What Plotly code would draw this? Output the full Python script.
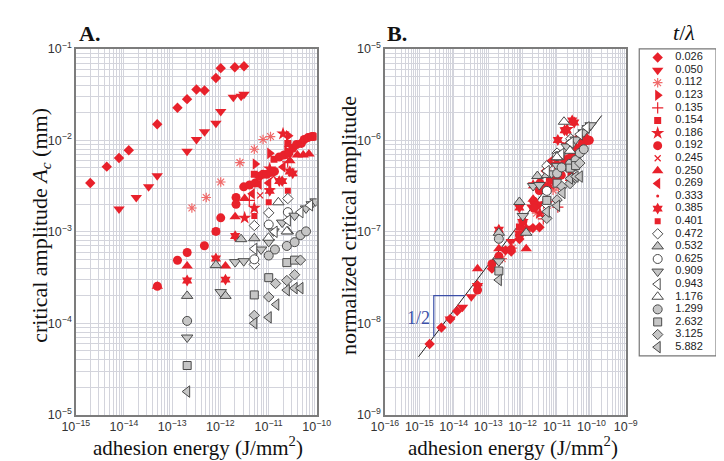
import plotly.graph_objects as go

W, H = 724, 461

# ---------------- data (panel A: adhesion energy [J/mm^2] vs critical amplitude [mm]) ----------------
t_labels = ["0.026", "0.050", "0.112", "0.123", "0.135", "0.154", "0.186", "0.192",
            "0.245", "0.250", "0.269", "0.333", "0.385", "0.401", "0.472", "0.532",
            "0.625", "0.909", "0.943", "1.176", "1.299", "2.632", "3.125", "5.882"]

E_0026 = [2.0e-15, 4.4e-15, 7.9e-15, 1.26e-14, 4.9e-14, 1.29e-13, 2.04e-13, 3.2e-13, 4.7e-13, 8.1e-13, 1.02e-12, 2.0e-12, 3.1e-12]
A_0026 = [3.41e-3, 5.15e-3, 6.4e-3, 7.8e-3, 1.5e-2, 2.27e-2, 2.82e-2, 3.6e-2, 3.5e-2, 4.8e-2, 6.15e-2, 6.3e-2, 6.45e-2]
E_0050 = [7.9e-15, 1.8e-14, 3.25e-14, 4.9e-14, 2.04e-13, 3.2e-13, 4.7e-13, 8.1e-13, 1.02e-12, 1.86e-12, 2.7e-12, 3.1e-12]
A_0050 = [1.77e-3, 2.37e-3, 3.1e-3, 4.1e-3, 7.6e-3, 1.02e-2, 1.24e-2, 1.54e-2, 2.06e-2, 2.96e-2, 3.04e-2, 3.19e-2]
E_0112 = [2.57e-13, 5.1e-13, 1.02e-12, 2.55e-12, 5.07e-12, 7.7e-12, 1.1e-11]
A_0112 = [1.82e-3, 2.37e-3, 3.5e-3, 5.7e-3, 7.98e-3, 1.02e-2, 1.1e-2]
E_0123 = [5.3e-12, 1.06e-11, 2.4e-11, 2.6e-11]
A_0123 = [5.5e-3, 7.2e-3, 7.6e-3, 1.12e-2]
E_0135 = [1.06e-11, 2.5e-11, 4.0e-12]
A_0135 = [2.95e-3, 5.8e-3, 2.2e-3]
E_0154 = [2.52e-11, 5.07e-12, 8.1e-13, 1.3e-11]
A_0154 = [9.25e-3, 4.25e-3, 1.01e-3, 6.2e-3]
E_0186 = [2.0e-11, 1.06e-11, 5.07e-12, 3.2e-12]
A_0186 = [1.18e-2, 4.9e-3, 1.82e-3, 1.42e-3]
E_0192 = [4.93e-14, 1.29e-13, 2.05e-13, 4.67e-13, 8.1e-13, 1.02e-12, 2.12e-12, 2.12e-12, 3.06e-12, 4.04e-12,
          5.3e-12, 6.4e-12, 7.66e-12, 9.2e-12, 1.1e-11, 1.33e-11, 1.67e-11, 2.1e-11, 2.64e-11, 3.18e-11,
          3.82e-11, 4.8e-11, 5.5e-11, 6.6e-11, 7.9e-11, 8.7e-11]
A_0192 = [2.54e-4, 4.89e-4, 5.93e-4, 7.03e-4, 1.01e-3, 1.42e-3, 2.37e-3, 2.0e-3, 3.1e-3, 3.25e-3,
          3.41e-3, 4.05e-3, 4.25e-3, 4.25e-3, 4.46e-3, 4.57e-3, 6.58e-3, 6.9e-3, 7.24e-3, 8.2e-3,
          9.0e-3, 9.25e-3, 1.02e-2, 1.07e-2, 1.1e-2, 1.1e-2]
E_0245 = [1.27e-11, 6.7e-12]
A_0245 = [4.05e-3, 2.5e-3]
E_0250 = [4.93e-14, 2.05e-13, 1.28e-12, 2.03e-12, 3.2e-12, 2.77e-11, 3.98e-11, 5.26e-11, 6.9e-11]
A_0250 = [2.54e-4, 4.22e-4, 4.22e-4, 1.46e-3, 2.31e-3, 5.97e-3, 6.9e-3, 6.9e-3, 7.08e-3]
E_0269 = [4.6e-12, 6.4e-12, 1.01e-11, 2.0e-11]
A_0269 = [2.6e-3, 3.3e-3, 3.41e-3, 5.1e-3]
E_0333 = [1.5e-11, 3.0e-11]
A_0333 = [3.7e-3, 6.0e-3]
E_0385 = [2.77e-11, 3.18e-11, 1.67e-11, 1.92e-11, 2.05e-13, 8.1e-13, 1.28e-12, 2.03e-12, 1.06e-11]
A_0385 = [4.57e-3, 4.35e-3, 3.58e-3, 3.58e-3, 2.93e-4, 5.1e-4, 3.0e-4, 8.97e-4, 2.8e-3]
E_0401 = [1.01e-11, 2.52e-11, 5.07e-12]
A_0401 = [2.1e-3, 2.81e-3, 1.49e-3]
E_0472 = [5.07e-12, 1.01e-11, 2.52e-11, 5.07e-12]
A_0472 = [1.17e-3, 1.61e-3, 2.31e-3, 4.4e-4]
E_0532 = [2.05e-13, 8.1e-13, 1.28e-12, 2.7e-12, 5.07e-12, 2.52e-11]
A_0532 = [1.99e-4, 4.32e-4, 1.99e-4, 8.3e-4, 8.5e-4, 1.01e-3]
E_0625 = [1.01e-11, 2.52e-11, 5.07e-12]
A_0625 = [1.2e-3, 1.64e-3, 5.0e-4]
E_0909 = [2.05e-13, 1.02e-12, 2.03e-12, 3.06e-12, 7.0e-12, 1.01e-11, 1.27e-11, 1.92e-11, 3.48e-11, 6.0e-11, 7.9e-11, 9.5e-11]
A_0909 = [6.98e-5, 2.19e-4, 4.66e-4, 4.77e-4, 6.4e-4, 7.74e-4, 1.01e-3, 1.26e-3, 1.5e-3, 1.8e-3, 2.0e-3, 2.15e-3]
E_0943 = [5.07e-12, 1.34e-11, 2.52e-11, 4.6e-11, 7.3e-11]
A_0943 = [6.5e-4, 1.0e-3, 1.33e-3, 1.64e-3, 1.95e-3]
E_1176 = [1.6e-11, 2.4e-11, 1.0e-11]
A_1176 = [2.1e-3, 1.01e-3, 8.6e-4]
E_1299 = [2.05e-13, 1.01e-11, 1.36e-11, 2.4e-11, 3.48e-11, 4.6e-11, 6.0e-11]
A_1299 = [1.06e-4, 5.5e-4, 6.4e-4, 7.0e-4, 7.7e-4, 9.2e-4, 1.01e-3]
E_2632 = [2.05e-13, 5.07e-12, 1.01e-11, 2.4e-11, 3.48e-11]
A_2632 = [3.45e-5, 2.04e-4, 3.15e-4, 4.6e-4, 4.9e-4]
E_3125 = [5.07e-12, 1.01e-11, 1.4e-11, 2.4e-11, 3.48e-11, 4.6e-11]
A_3125 = [1.22e-4, 1.94e-4, 2.72e-4, 2.93e-4, 3.39e-4, 4.9e-4]
E_5882 = [2.05e-13, 5.07e-12, 1.01e-11, 1.45e-11, 2.4e-11, 3.48e-11, 4.6e-11]
A_5882 = [1.79e-5, 1.0e-4, 1.16e-4, 1.6e-4, 2.3e-4, 2.42e-4, 2.42e-4]

# normalisation factor per series (panel B = A * factor)
norm_factor = [1.74e-6, 6.3e-6, 2.8e-5, 5.6e-5, 6.3e-5, 1.12e-4, 1.12e-4, 9.1e-5,
               1.26e-4, 1.55e-4, 1.78e-4, 2.5e-4, 3.6e-4, 3.2e-4, 4.5e-4, 4.9e-4,
               5.6e-4, 6.8e-4, 7.1e-4, 7.6e-4, 7.9e-4, 1.08e-3, 1.15e-3, 1.66e-3]

# fitted slope-1/2 line and slope triangle in panel B
fit_E = [9.5e-16, 2.0e-10]
fit_A = [4.3e-9, 1.87e-6]
tri_E = [2.64e-15, 2.64e-15, 2.1e-14]
tri_A = [7.2e-9, 2.0e-8, 2.0e-8]

energies = [E_0026, E_0050, E_0112, E_0123, E_0135, E_0154, E_0186, E_0192, E_0245, E_0250, E_0269, E_0333,
            E_0385, E_0401, E_0472, E_0532, E_0625, E_0909, E_0943, E_1176, E_1299, E_2632, E_3125, E_5882]
amps = [A_0026, A_0050, A_0112, A_0123, A_0135, A_0154, A_0186, A_0192, A_0245, A_0250, A_0269, A_0333,
        A_0385, A_0401, A_0472, A_0532, A_0625, A_0909, A_0943, A_1176, A_1299, A_2632, A_3125, A_5882]

# ---------------- styles ----------------
RED = "#e8212b"
LRED = "#f06a6a"
GFILL = "#c6c6c6"
GEDGE = "#4a4a4a"
WHITE = "#ffffff"

styles = [
    dict(symbol="diamond", size=8, color=RED, line=dict(width=0)),
    dict(symbol="triangle-down", size=10, color=RED, line=dict(width=0)),
    dict(symbol="asterisk-open", size=8, color=LRED, line=dict(width=1.2, color=LRED)),
    dict(symbol="triangle-right", size=10, color=RED, line=dict(width=0)),
    dict(symbol="cross-thin-open", size=8, color=RED, line=dict(width=1.2, color=RED)),
    dict(symbol="square", size=7, color=RED, line=dict(width=0)),
    dict(symbol="star", size=10, color=RED, line=dict(width=0)),
    dict(symbol="circle", size=9, color=RED, line=dict(width=0)),
    dict(symbol="x-thin-open", size=6, color=RED, line=dict(width=1.2, color=RED)),
    dict(symbol="triangle-up", size=10, color=RED, line=dict(width=0)),
    dict(symbol="triangle-left", size=10, color=RED, line=dict(width=0)),
    dict(symbol="circle", size=3, color=RED, line=dict(width=0)),
    dict(symbol="hexagram", size=9, color=RED, line=dict(width=0)),
    dict(symbol="square", size=6, color=RED, line=dict(width=0)),
    dict(symbol="diamond", size=8, color=WHITE, line=dict(width=1, color=GEDGE)),
    dict(symbol="triangle-up", size=10, color=GFILL, line=dict(width=1, color=GEDGE)),
    dict(symbol="circle", size=9, color=WHITE, line=dict(width=1, color=GEDGE)),
    dict(symbol="triangle-down", size=10, color=GFILL, line=dict(width=1, color=GEDGE)),
    dict(symbol="triangle-left", size=10, color=WHITE, line=dict(width=1, color=GEDGE)),
    dict(symbol="triangle-up", size=10, color=WHITE, line=dict(width=1, color=GEDGE)),
    dict(symbol="circle", size=9, color=GFILL, line=dict(width=1, color=GEDGE)),
    dict(symbol="square", size=8, color=GFILL, line=dict(width=1, color=GEDGE)),
    dict(symbol="diamond", size=8, color=GFILL, line=dict(width=1, color=GEDGE)),
    dict(symbol="triangle-left", size=10, color=GFILL, line=dict(width=1, color=GEDGE)),
]

fig = go.Figure()

# fit line in B (below markers)
fig.add_trace(go.Scatter(x=fit_E, y=fit_A, mode="lines", line=dict(color="#222", width=1),
                         xaxis="x2", yaxis="y2", showlegend=False, hoverinfo="skip"))
fig.add_trace(go.Scatter(x=tri_E, y=tri_A, mode="lines", line=dict(color="#3b4fa8", width=1.2),
                         xaxis="x2", yaxis="y2", showlegend=False, hoverinfo="skip"))

for i, (lab, E, A, st) in enumerate(zip(t_labels, energies, amps, styles)):
    fig.add_trace(go.Scatter(x=E, y=A, mode="markers", marker=st, xaxis="x", yaxis="y",
                             showlegend=False, name=lab))
    B = [a * norm_factor[i] for a in A]
    fig.add_trace(go.Scatter(x=E, y=B, mode="markers", marker=st, xaxis="x2", yaxis="y2",
                             showlegend=False, name=lab))
    # custom compact legend entry
    fig.add_trace(go.Scatter(x=[0.24], y=[i], mode="markers", marker=st, xaxis="x3", yaxis="y3",
                             showlegend=False, hoverinfo="skip"))

fig.add_trace(go.Scatter(x=[0.47] * len(t_labels), y=list(range(len(t_labels))), mode="text",
                         text=t_labels, textposition="middle right",
                         textfont=dict(family="Liberation Sans, Arial", size=11, color="#222"),
                         xaxis="x3", yaxis="y3", showlegend=False, hoverinfo="skip"))

GRID = "#d3d4dc"
FRAME = "#7c7c7c"
tickfont = dict(family="Liberation Sans, Arial", size=10, color="#333")


def logaxis(domain, rng):
    return dict(type="log", domain=domain, range=rng, dtick=1, exponentformat="power",
                showline=True, mirror=True, linecolor=FRAME, linewidth=2,
                showgrid=True, gridcolor=GRID, gridwidth=1, ticks="", zeroline=False,
                tickfont=tickfont,
                minor=dict(dtick="D1", showgrid=True, gridcolor=GRID, gridwidth=1, ticks=""))


ybot = 1 - 412 / H
ytop = 1 - 33 / H
fig.update_layout(
    width=W, height=H, margin=dict(l=0, r=0, t=0, b=0),
    paper_bgcolor="white", plot_bgcolor="white",
    xaxis=logaxis([56 / W, 307 / W], [-15, -10]),
    yaxis=logaxis([ybot, ytop], [-5, -1]),
    xaxis2=logaxis([378 / W, 629 / W], [-16, -9]),
    yaxis2=logaxis([ybot, ytop], [-9, -5]),
    xaxis3=dict(domain=[643 / W, 723 / W], range=[0, 1], visible=False, fixedrange=True),
    yaxis3=dict(domain=[1 - 351 / H, ytop], range=[23.69, -0.69], visible=False, fixedrange=True),
    showlegend=False,
)
fig.update_layout(yaxis2=dict(anchor="x2"), xaxis2=dict(anchor="y2"),
                  yaxis3=dict(anchor="x3"), xaxis3=dict(anchor="y3"))

# legend box
fig.add_shape(type="rect", xref="paper", yref="paper", x0=643 / W, x1=723 / W,
              y0=1 - 351 / H, y1=ytop, line=dict(color="#777", width=1.2), fillcolor="rgba(0,0,0,0)")

serif = "Liberation Serif, Times New Roman, serif"
ann = [
    dict(text="<b>A.</b>", x=57 / W, y=1 - 17 / H, font=dict(family=serif, size=22, color="#111"),
         xanchor="left", yanchor="middle"),
    dict(text="<b>B.</b>", x=378 / W, y=1 - 17 / H, font=dict(family=serif, size=22, color="#111"),
         xanchor="left", yanchor="middle"),
    dict(text="<i>t</i>/<i>λ</i>", x=690 / W, y=1 - 16 / H, font=dict(family=serif, size=22, color="#111"),
         xanchor="center", yanchor="middle"),
    dict(text="adhesion energy (J/mm<sup>2</sup>)", x=183 / W, y=1 - 445 / H,
         font=dict(family=serif, size=21, color="#111"), xanchor="center", yanchor="middle"),
    dict(text="adhesion energy (J/mm<sup>2</sup>)", x=512 / W, y=1 - 445 / H,
         font=dict(family=serif, size=21, color="#111"), xanchor="center", yanchor="middle"),
    dict(text="critical amplitude <i>A<sub>c</sub></i> (mm)", x=19 / W, y=1 - 216 / H, textangle=-90,
         font=dict(family=serif, size=22, color="#111"), xanchor="center", yanchor="middle"),
    dict(text="normalized critical amplitude", x=340 / W, y=1 - 216 / H, textangle=-90,
         font=dict(family=serif, size=22, color="#111"), xanchor="center", yanchor="middle"),
    dict(text="1/2", x=413 / W, y=1 - 312 / H, font=dict(family=serif, size=18, color="#3b4fa8"),
         xanchor="center", yanchor="middle"),
]
for a in ann:
    a.update(xref="paper", yref="paper", showarrow=False)
    fig.add_annotation(**a)

fig.write_html("out.html")
